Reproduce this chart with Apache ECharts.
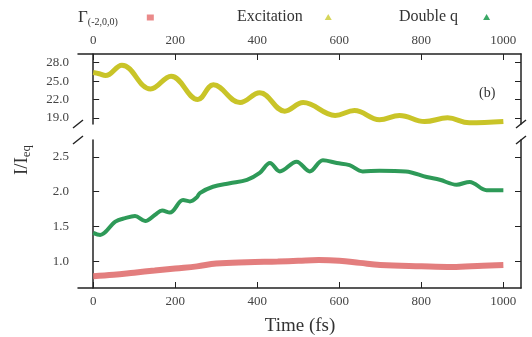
<!DOCTYPE html>
<html>
<head>
<meta charset="utf-8">
<script src="https://cdn.jsdelivr.net/npm/echarts@6/dist/echarts.min.js"></script>
<style>
  html, body { margin: 0; padding: 0; background: #fff; }
  #chart { width: 532px; height: 337px; }
</style>
</head>
<body>
<div id="chart"></div>
<script>
// values
const xTicks = [0, 200, 400, 600, 800, 1000];
const topTicks = [19, 22, 25, 28];
const lowTicks = [1.0, 1.5, 2.0, 2.5];

const excT = [0, 15, 30, 70, 140, 190, 255, 293, 358, 406, 467, 512, 590, 637, 698, 747, 808, 864, 917, 1000];
const excV = [26.4, 26.2, 25.9, 27.6, 23.7, 25.8, 22.0, 24.4, 21.5, 23.1, 20.1, 21.5, 19.4, 20.2, 18.7, 19.4, 18.4, 19.0, 18.2, 18.4];

const dqT = [0, 17, 54, 78, 102, 127, 151, 168, 187, 219, 236, 253, 260, 292, 333, 375, 406, 431, 455, 496, 528, 560, 594, 625, 657, 698, 762, 813, 845, 886, 918, 959, 1000];
const dqV = [1.41, 1.38, 1.57, 1.62, 1.65, 1.58, 1.67, 1.73, 1.70, 1.88, 1.86, 1.92, 1.98, 2.07, 2.12, 2.17, 2.27, 2.41, 2.29, 2.43, 2.29, 2.45, 2.41, 2.38, 2.29, 2.30, 2.29, 2.21, 2.17, 2.10, 2.14, 2.02, 2.02];

const gT = [0, 50, 100, 150, 200, 253, 300, 375, 450, 500, 550, 600, 650, 700, 800, 875, 950, 1000];
const gV = [0.79, 0.81, 0.84, 0.87, 0.90, 0.93, 0.97, 0.99, 1.00, 1.01, 1.02, 1.01, 0.98, 0.95, 0.93, 0.92, 0.94, 0.95];

const pairs = (t, v) => t.map((x, i) => [x, v[i]]);

const font = 'Liberation Serif';
const ink = '#222';
const chart = echarts.init(document.getElementById('chart'));

const xBase = {
  type: 'value', min: -37, max: 1043,
  splitLine: { show: false },
  axisLine: { show: true, lineStyle: { color: ink, width: 1.5 } },
  axisTick: { inside: true, length: 6, customValues: xTicks, lineStyle: { color: ink } },
  axisLabel: { customValues: xTicks, color: '#444', fontFamily: font, fontSize: 13, margin: 7, formatter: v => String(v) }
};
const yBase = {
  type: 'value',
  splitLine: { show: false },
  axisLine: { show: true, lineStyle: { color: ink, width: 1.5 } },
  axisTick: { inside: true, length: 6, lineStyle: { color: ink } },
  axisLabel: { color: '#444', fontFamily: font, fontSize: 13, margin: 9, formatter: v => v.toFixed(1) }
};

const legendBase = {
  top: 4, align: 'right', itemWidth: 7, itemHeight: 6,
  textStyle: { fontFamily: font, fontSize: 16, color: '#333', padding: [0, 17, 0, 0] }
};

chart.setOption({
  animation: false,
  legend: [
    Object.assign({}, legendBase, {
      left: 73, data: [{ name: 'Γ(-2,0,0)', icon: 'rect' }],
      formatter: () => '{g|Γ}{s|(-2,0,0)}',
      textStyle: Object.assign({}, legendBase.textStyle, {
        padding: [0, 24, 0, 0],
        rich: {
          g: { fontFamily: font, fontSize: 17, color: '#333' },
          s: { fontFamily: font, fontSize: 10, color: '#333', padding: [9, 0, 0, 0] }
        }
      })
    }),
    Object.assign({}, legendBase, {
      left: 232, data: [{ name: 'Excitation', icon: 'triangle', itemStyle: { color: '#d6d65a' } }]
    }),
    Object.assign({}, legendBase, {
      left: 394, data: [{ name: 'Double q', icon: 'triangle', itemStyle: { color: '#3aa866' } }],
      textStyle: Object.assign({}, legendBase.textStyle, { padding: [0, 20, 0, 0] })
    })
  ],
  grid: [
    { left: 78, right: 11, top: 54, bottom: 213 },
    { left: 78, right: 11, top: 140, bottom: 49 }
  ],
  xAxis: [
    Object.assign({}, xBase, { gridIndex: 0, position: 'top' }),
    Object.assign({}, xBase, { gridIndex: 1, position: 'bottom' })
  ],
  yAxis: [
    Object.assign({}, yBase, { gridIndex: 0, min: 18.0, max: 29.42,
      axisTick: Object.assign({}, yBase.axisTick, { customValues: topTicks }),
      axisLabel: Object.assign({}, yBase.axisLabel, { customValues: topTicks }) }),
    Object.assign({}, yBase, { gridIndex: 0, min: 18.0, max: 29.42, position: 'right',
      axisTick: Object.assign({}, yBase.axisTick, { customValues: topTicks }),
      axisLabel: { show: false } }),
    Object.assign({}, yBase, { gridIndex: 1, min: 0.62, max: 2.74,
      axisTick: Object.assign({}, yBase.axisTick, { customValues: lowTicks }),
      axisLabel: Object.assign({}, yBase.axisLabel, { customValues: lowTicks }) }),
    Object.assign({}, yBase, { gridIndex: 1, min: 0.62, max: 2.74, position: 'right',
      axisTick: Object.assign({}, yBase.axisTick, { customValues: lowTicks }),
      axisLabel: { show: false } })
  ],
  series: [
    {
      name: 'Γ(-2,0,0)', type: 'line', xAxisIndex: 1, yAxisIndex: 2,
      data: pairs(gT, gV), smooth: 0.4, showSymbol: false,
      itemStyle: { color: '#ea8a8a' },
      lineStyle: { color: '#e07070', width: 6, opacity: 0.9 }
    },
    {
      name: 'Excitation', type: 'line', xAxisIndex: 0, yAxisIndex: 0,
      data: pairs(excT, excV), smooth: 0.4, showSymbol: false,
      itemStyle: { color: '#d6d65a' },
      lineStyle: { color: '#c9c428', width: 5 }
    },
    {
      name: 'Double q', type: 'line', xAxisIndex: 1, yAxisIndex: 2,
      data: pairs(dqT, dqV), smooth: 0.35, showSymbol: false,
      itemStyle: { color: '#3aa866' },
      lineStyle: { color: '#2e9a58', width: 4 }
    }
  ],
  graphic: [
    // axis break marks
    { type: 'line', shape: { x1: 73, y1: 128, x2: 83, y2: 120 }, style: { stroke: ink, lineWidth: 1.5 } },
    { type: 'line', shape: { x1: 73, y1: 144, x2: 83, y2: 136 }, style: { stroke: ink, lineWidth: 1.5 } },
    { type: 'line', shape: { x1: 516, y1: 128, x2: 526, y2: 120 }, style: { stroke: ink, lineWidth: 1.5 } },
    { type: 'line', shape: { x1: 516, y1: 144, x2: 526, y2: 136 }, style: { stroke: ink, lineWidth: 1.5 } },
    {
      type: 'text', left: 479, top: 86,
      style: { text: '(b)', fontFamily: font, fontSize: 14, fill: '#333' }
    },
    {
      type: 'text', x: 300, y: 326,
      style: { text: 'Time (fs)', fontFamily: font, fontSize: 19, fill: '#333', align: 'center', verticalAlign: 'middle' }
    },
    {
      type: 'text', x: 22, y: 160, rotation: Math.PI / 2,
      style: {
        text: '{a|I/I}{b|eq}', align: 'center', verticalAlign: 'middle',
        rich: {
          a: { fontFamily: font, fontSize: 19, fill: '#333' },
          b: { fontFamily: font, fontSize: 13, fill: '#333', padding: [10, 0, 0, 0] }
        }
      }
    }
  ]
});
</script>
</body>
</html>
